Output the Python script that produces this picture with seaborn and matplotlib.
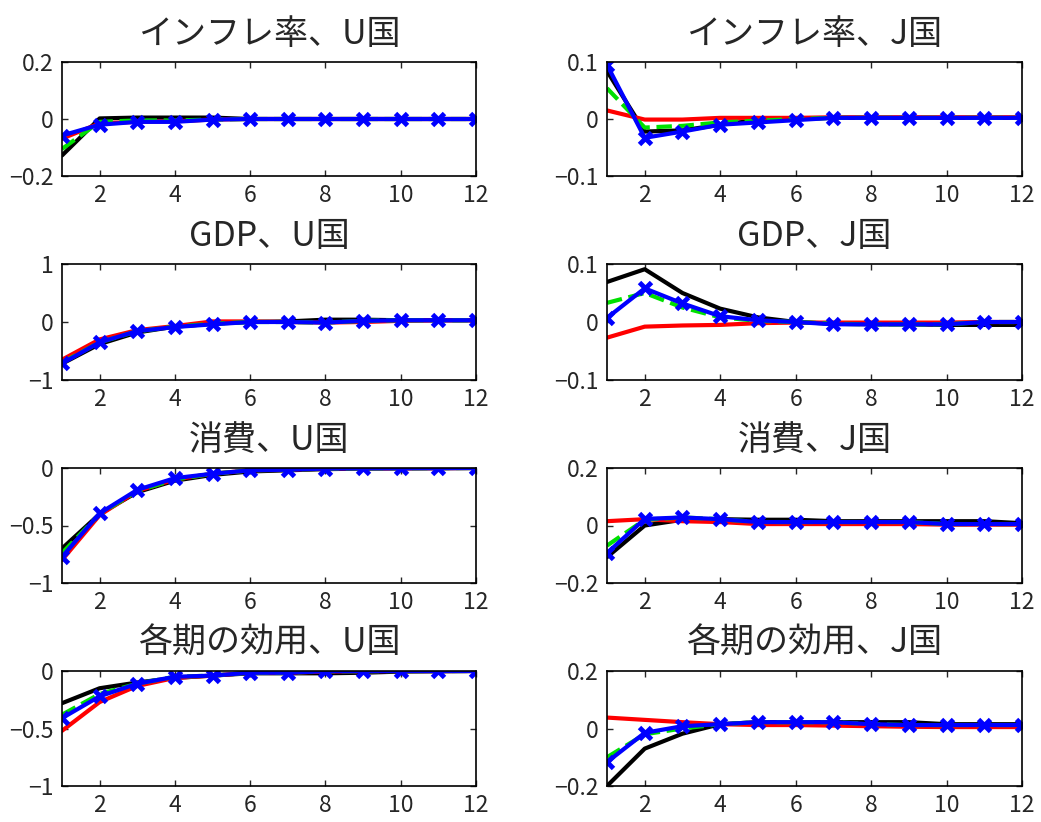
import numpy as np
import pandas as pd
import matplotlib
matplotlib.use("Agg")
import matplotlib.pyplot as plt
import seaborn as sns

sns.set_style("ticks")
plt.rcParams['font.family'] = ['Noto Sans CJK JP', 'DejaVu Sans']
plt.rcParams['axes.unicode_minus'] = True

periods = list(range(1, 13))

titles = ["インフレ率、U国", "インフレ率、J国",
          "GDP、U国", "GDP、J国",
          "消費、U国", "消費、J国",
          "各期の効用、U国", "各期の効用、J国"]

ylims = [(-0.2, 0.2), (-0.1, 0.1),
         (-1, 1), (-0.1, 0.1),
         (-1, 0), (-0.2, 0.2),
         (-1, 0), (-0.2, 0.2)]

yticks = [[-0.2, 0, 0.2], [-0.1, 0, 0.1],
          [-1, 0, 1], [-0.1, 0, 0.1],
          [-1, -0.5, 0], [-0.2, 0, 0.2],
          [-1, -0.5, 0], [-0.2, 0, 0.2]]

ytick_labels = [["−0.2", "0", "0.2"], ["−0.1", "0", "0.1"],
                ["−1", "0", "1"], ["−0.1", "0", "0.1"],
                ["−1", "−0.5", "0"], ["−0.2", "0", "0.2"],
                ["−1", "−0.5", "0"], ["−0.2", "0", "0.2"]]

# impulse responses, one list per panel and model
black = [
    [-0.128, 0.002, 0.005, 0.005, 0.005, 0.0, 0.0, 0.0, 0.0, 0.0, 0.0, 0.0],
    [0.084, -0.022, -0.020, -0.010, -0.002, 0.0, 0.002, 0.002, 0.002, 0.002, 0.002, 0.002],
    [-0.72, -0.38, -0.18, -0.08, -0.03, 0.0, 0.01, 0.04, 0.04, 0.03, 0.03, 0.03],
    [0.069, 0.091, 0.050, 0.023, 0.008, 0.0, -0.003, -0.004, -0.004, -0.005, -0.005, -0.005],
    [-0.70, -0.40, -0.21, -0.11, -0.06, -0.03, -0.02, -0.01, -0.005, -0.003, -0.002, 0.0],
    [-0.110, 0.0, 0.020, 0.022, 0.020, 0.020, 0.015, 0.015, 0.015, 0.015, 0.015, 0.008],
    [-0.28, -0.15, -0.10, -0.06, -0.04, -0.02, -0.02, -0.02, -0.015, -0.005, -0.003, 0.0],
    [-0.200, -0.070, -0.018, 0.015, 0.022, 0.022, 0.022, 0.022, 0.022, 0.015, 0.015, 0.015],
]
red = [
    [-0.069, -0.015, -0.010, -0.008, -0.002, 0.0, 0.0, 0.0, 0.0, 0.0, 0.0, 0.0],
    [0.015, -0.001, -0.001, 0.002, 0.002, 0.002, 0.003, 0.003, 0.003, 0.003, 0.003, 0.003],
    [-0.65, -0.30, -0.14, -0.07, 0.01, 0.01, 0.0, -0.01, 0.0, 0.02, 0.03, 0.03],
    [-0.027, -0.008, -0.006, -0.005, -0.002, -0.001, -0.001, -0.001, -0.001, -0.001, 0.0, 0.0],
    [-0.80, -0.41, -0.20, -0.10, -0.05, -0.02, -0.015, -0.005, -0.003, -0.002, -0.001, 0.0],
    [0.015, 0.022, 0.015, 0.012, 0.005, 0.005, 0.005, 0.005, 0.005, 0.003, 0.003, 0.003],
    [-0.52, -0.27, -0.13, -0.06, -0.04, -0.015, -0.015, -0.005, -0.002, 0.0, 0.0, 0.0],
    [0.038, 0.030, 0.022, 0.015, 0.012, 0.012, 0.010, 0.008, 0.006, 0.005, 0.005, 0.005],
]
green = [
    [-0.105, -0.010, -0.005, -0.005, -0.002, 0.0, 0.0, 0.0, 0.0, 0.0, 0.0, 0.0],
    [0.054, -0.015, -0.012, -0.006, -0.003, 0.0, 0.002, 0.002, 0.002, 0.002, 0.002, 0.002],
    [-0.70, -0.35, -0.16, -0.08, -0.03, 0.0, 0.0, -0.01, 0.02, 0.03, 0.03, 0.03],
    [0.033, 0.050, 0.025, 0.008, 0.002, 0.0, -0.003, -0.004, -0.004, -0.004, 0.0, 0.0],
    [-0.74, -0.40, -0.20, -0.10, -0.05, -0.02, -0.015, -0.005, -0.003, -0.002, -0.001, 0.0],
    [-0.070, 0.020, 0.028, 0.022, 0.012, 0.012, 0.012, 0.012, 0.012, 0.005, 0.005, 0.005],
    [-0.38, -0.20, -0.11, -0.05, -0.04, -0.015, -0.015, -0.002, -0.002, 0.0, 0.0, 0.0],
    [-0.100, -0.020, 0.0, 0.015, 0.022, 0.022, 0.022, 0.015, 0.012, 0.012, 0.012, 0.012],
]
blue = [
    [-0.058, -0.020, -0.010, -0.010, -0.002, 0.0, 0.0, 0.0, 0.0, 0.0, 0.0, 0.0],
    [0.095, -0.033, -0.022, -0.010, -0.006, -0.002, 0.002, 0.002, 0.002, 0.002, 0.002, 0.002],
    [-0.715, -0.35, -0.157, -0.087, -0.04, 0.0, 0.0, -0.01, 0.02, 0.03, 0.03, 0.03],
    [0.007, 0.058, 0.032, 0.010, 0.003, 0.0, -0.004, -0.004, -0.004, -0.004, 0.0, 0.0],
    [-0.773, -0.394, -0.19, -0.088, -0.05, -0.02, -0.015, -0.005, -0.003, -0.002, -0.001, 0.0],
    [-0.096, 0.023, 0.028, 0.022, 0.012, 0.012, 0.012, 0.012, 0.012, 0.005, 0.005, 0.005],
    [-0.41, -0.22, -0.11, -0.05, -0.04, -0.015, -0.015, -0.002, -0.002, 0.0, 0.0, 0.0],
    [-0.117, -0.015, 0.008, 0.015, 0.022, 0.022, 0.022, 0.015, 0.012, 0.012, 0.012, 0.012],
]

W, H = 1041, 822
fig = plt.figure(figsize=(W / 100, H / 100), dpi=100)

col_x = [(62, 476), (607, 1022)]
row_y = [(62, 176), (264, 380), (468, 583), (671, 786)]

styles = [
    (black, dict(color="black", linestyle="-", marker=None)),
    (red, dict(color="#ff0000", linestyle="-", marker=None)),
    (green, dict(color="#00e000", linestyle="--", marker=None)),
    (blue, dict(color="#0000ff", linestyle="-", marker="x")),
]

for i in range(8):
    r, c = divmod(i, 2)
    x0, x1 = col_x[c]
    y0, y1 = row_y[r]
    ax = fig.add_axes([x0 / W, 1 - y1 / H, (x1 - x0) / W, (y1 - y0) / H])
    for series, st in styles:
        kw = dict(linewidth=3.0)
        if st["marker"]:
            kw.update(marker="x", markersize=9, markeredgewidth=3.5,
                      markeredgecolor=st["color"])
        sns.lineplot(x=periods, y=series[i], ax=ax, color=st["color"],
                     linestyle=st["linestyle"], **kw)
    ax.set_xlim(1, 12)
    ax.set_ylim(*ylims[i])
    ax.set_xticks([2, 4, 6, 8, 10, 12])
    ax.set_yticks(yticks[i])
    ax.set_yticklabels(ytick_labels[i])
    ax.tick_params(direction="in", top=True, right=True, length=4,
                   width=1, labelsize=16.5, pad=6)
    for sp in ax.spines.values():
        sp.set_linewidth(1.2)
        sp.set_color("black")
    ax.set_title(titles[i], fontsize=24.5, pad=13)

fig.savefig("out.png", dpi=100)
